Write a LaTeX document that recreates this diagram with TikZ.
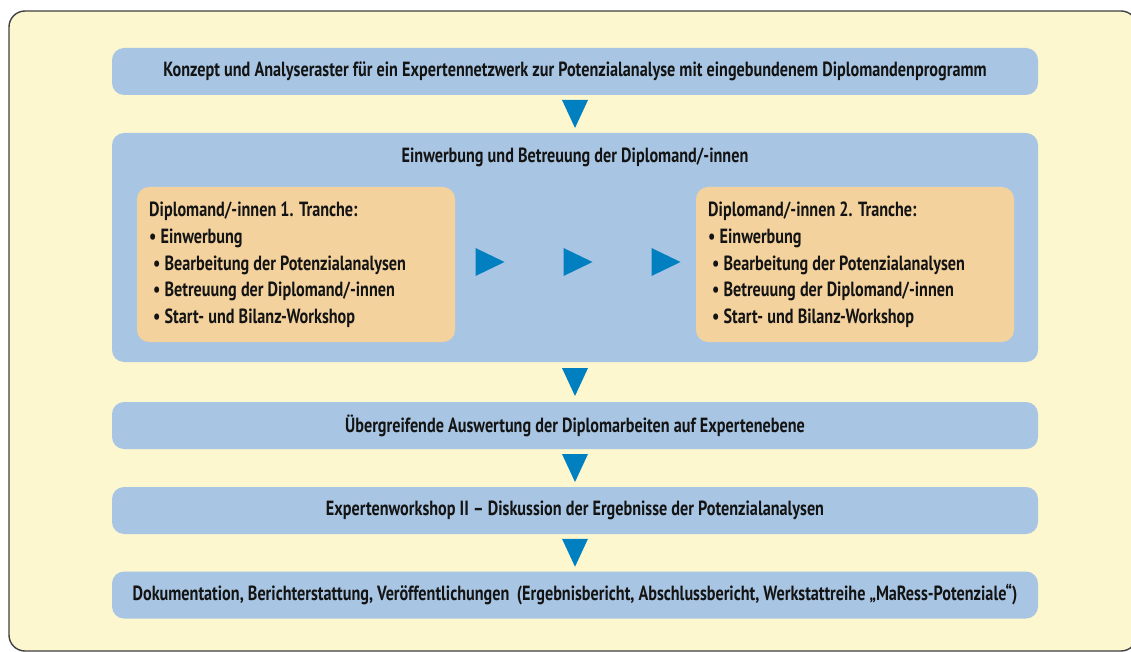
\documentclass[tikz,border=0pt]{standalone}
\usepackage{fontspec}
\setmainfont{PT Sans}[FakeStretch=0.79]
\usetikzlibrary{calc}
\definecolor{cream}{HTML}{FDF7D0}
\definecolor{boxblue}{HTML}{A8C6E3}
\definecolor{boxorange}{HTML}{F3D29E}
\definecolor{arrblue}{HTML}{0080C0}
\definecolor{txt}{HTML}{141414}
\definecolor{framegray}{HTML}{404040}
\tikzset{
  txtfont/.style={font=\bfseries\fontsize{20.5}{26.7}\selectfont, text=txt},
  bluebox/.style={fill=boxblue, rounded corners=12pt, minimum width=926pt, minimum height=47pt, inner sep=0pt, txtfont},
  orangebox/.style={fill=boxorange, rounded corners=12pt, minimum width=318pt, minimum height=155pt, inner sep=0pt},
  listtext/.style={txtfont, align=left, inner sep=0pt, anchor=north west},
  downarrow/.style={fill=arrblue},
}
\begin{document}
\begin{tikzpicture}[x=1pt,y=-1pt]
\useasboundingbox (0,0) rectangle (1131,652);
\begin{scope}
\clip (0,0) rectangle (1131,652);
\draw[framegray, line width=1.4pt, fill=cream, rounded corners=16pt] (9,11) rectangle (1137,651);
\end{scope}
% boxes
\node[bluebox] (n1) at (575,71.5) {Konzept und Analyseraster für ein Expertennetzwerk zur Potenzialanalyse mit eingebundenem Diplomandenprogramm};
\node[bluebox, minimum height=229pt] (n2) at (575,247.5) {};
\node[txtfont, inner sep=0pt] (n2t) at (575,157) {Einwerbung und Betreuung der Diplomand/-innen};
\node[orangebox] (o1) at (296,264.5) {};
\node[orangebox] (o2) at (855,264.5) {};
\node[listtext] (o1t) at (149,202) {Diplomand/-innen 1. Tranche:\\
• Einwerbung\\
\hspace*{4pt}• Bearbeitung der Potenzialanalysen\\
\hspace*{4pt}• Betreuung der Diplomand/-innen\\
\hspace*{4pt}• Start- und Bilanz-Workshop};
\node[listtext] (o2t) at (708,202) {Diplomand/-innen 2. Tranche:\\
• Einwerbung\\
\hspace*{4pt}• Bearbeitung der Potenzialanalysen\\
\hspace*{4pt}• Betreuung der Diplomand/-innen\\
\hspace*{4pt}• Start- und Bilanz-Workshop};
\node[bluebox] (n3) at (575,425.5) {Übergreifende Auswertung der Diplomarbeiten auf Expertenebene};
\node[bluebox] (n4) at (575,510.5) {Expertenworkshop II -- Diskussion der Ergebnisse der Potenzialanalysen};
\node[bluebox] (n5) at (575,595) {Dokumentation, Berichterstattung, Veröffentlichungen\ \,(Ergebnisbericht, Abschlussbericht, Werkstattreihe „MaRess-Potenziale“)};
% vertical arrows
\foreach \a/\b in {n1/n2, n2/n3, n3/n4, n4/n5}{
  \coordinate (m) at ($(\a.south)!0.5!(\b.north)$);
  \fill[downarrow] ($(m)+(-13,-14)$) -- ++(26,0) -- ++(-13,28) -- cycle;
}
% horizontal arrows
\coordinate (h1) at (490,262);
\coordinate (h2) at (578,262);
\coordinate (h3) at (666,262);
\foreach \h in {h1,h2,h3}{
  \fill[downarrow] ($(\h)+(-14.5,-14)$) -- ++(29,14) -- ++(-29,14) -- cycle;
}
\end{tikzpicture}
\end{document}
